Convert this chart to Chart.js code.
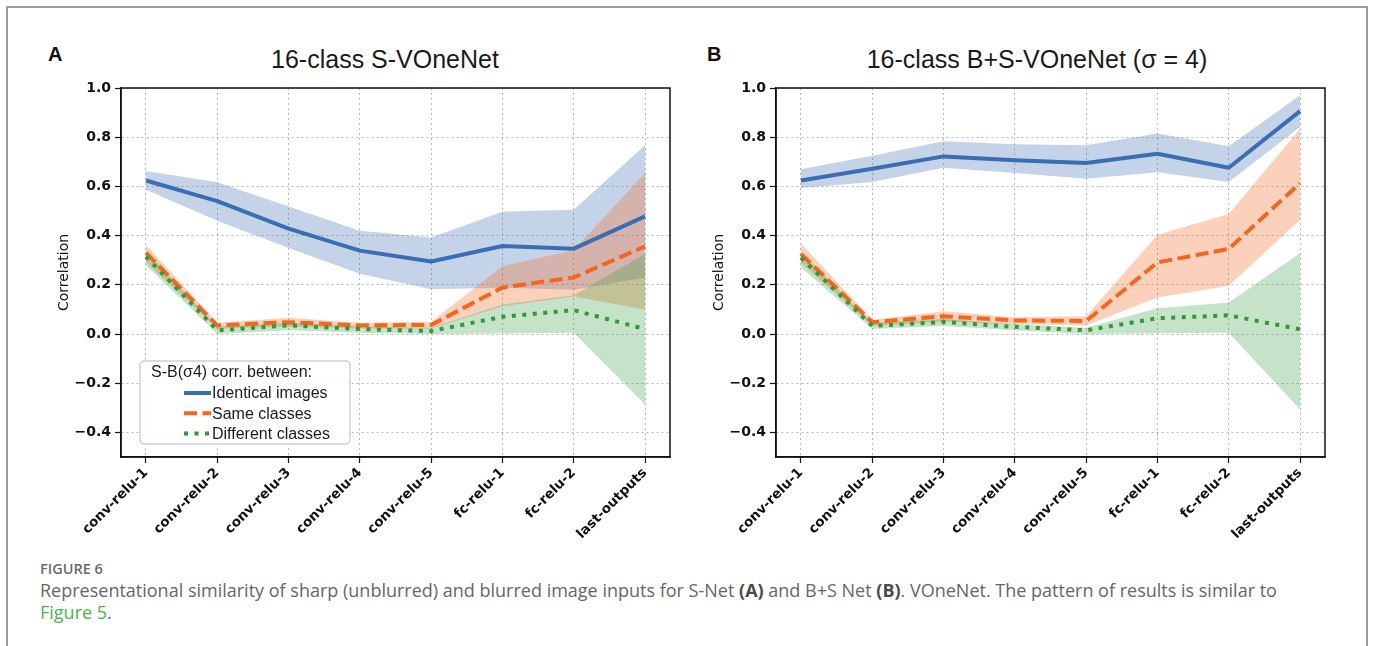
<!DOCTYPE html>
<html>
<head>
<meta charset="utf-8">
<script src="https://cdn.jsdelivr.net/npm/chart.js@4.4.1/dist/chart.umd.min.js"></script>
<style>
	body { margin: 0; background: #fff; width: 1373px; height: 646px; overflow: hidden; position: relative; font-family: "Liberation Sans", Arial, sans-serif; }
	#frame { position: absolute; left: 6px; top: 6px; width: 1358px; height: 700px; border: 2px solid #9b9b9b; }
	.panel { position: absolute; top: 0; }
	.letter { position: absolute; top: 44px; font: bold 20px/20px "Liberation Sans", Arial, sans-serif; color: #111; }
	.title { position: absolute; top: 47px; font: 25px/25px "Liberation Sans", Arial, sans-serif; color: #1a1a1a; white-space: nowrap; transform: translateX(-50%); }
	.figlabel { position: absolute; left: 40px; top: 560px; font: 600 14.5px/18px "Open Sans", sans-serif; color: #6a6a6a; }
	.caption { position: absolute; left: 40px; top: 579px; font: 18px/22px "Open Sans", sans-serif; color: #666; white-space: nowrap; }
	.caption b { font-weight: 700; color: #4a4a4a; }
	.caption .lnk { color: #4cb34c; }
</style>
</head>
<body>
<div id="frame"></div>

<div class="letter" style="left:48px;">A</div>
<div class="letter" style="left:707px;">B</div>
<div class="title" style="left:385px;">16-class S-VOneNet</div>
<div class="title" style="left:1037px;">16-class B+S-VOneNet (σ = 4)</div>

<canvas id="chartA" class="panel" style="left:0px;" width="690" height="540"></canvas>
<canvas id="chartB" class="panel" style="left:655px;" width="690" height="540"></canvas>

<div class="figlabel">FIGURE 6</div>
<div class="caption">Representational similarity of sharp (unblurred) and blurred image inputs for S-Net <b>(A)</b> and B+S Net <b>(B)</b>. VOneNet. The pattern of results is similar to<br><span class="lnk">Figure 5</span>.</div>

<script>
/* 資料 */
var layers = ['conv-relu-1', 'conv-relu-2', 'conv-relu-3', 'conv-relu-4', 'conv-relu-5', 'fc-relu-1', 'fc-relu-2', 'last-outputs'];
var xTicks = [0, 1, 2, 3, 4, 5, 6, 7];
var yTicks = [-0.4, -0.2, 0.0, 0.2, 0.4, 0.6, 0.8, 1.0];
var seriesNames = ['Identical images', 'Same classes', 'Different classes'];
var legendTitle = 'S-B(σ4) corr. between:';

// A: 16-class S-VOneNet
var identA    = [0.624, 0.540, 0.428, 0.339, 0.295, 0.358, 0.347, 0.478];
var identAUp  = [0.663, 0.617, 0.518, 0.420, 0.392, 0.497, 0.505, 0.767];
var identALow = [0.586, 0.460, 0.350, 0.245, 0.182, 0.188, 0.180, 0.230];
var sameA     = [0.330, 0.035, 0.048, 0.035, 0.037, 0.189, 0.230, 0.356];
var sameAUp   = [0.362, 0.046, 0.066, 0.046, 0.050, 0.275, 0.340, 0.655];
var sameALow  = [0.292, 0.022, 0.030, 0.022, 0.022, 0.113, 0.152, 0.100];
var diffA     = [0.315, 0.015, 0.035, 0.020, 0.012, 0.070, 0.097, 0.020];
var diffAUp   = [0.338, 0.030, 0.047, 0.032, 0.025, 0.120, 0.158, 0.325];
var diffALow  = [0.280, 0.000, 0.015, 0.005, 0.000, 0.002, 0.005, -0.287];

// B: 16-class B+S-VOneNet (σ = 4)
var identB    = [0.624, 0.672, 0.722, 0.706, 0.695, 0.733, 0.676, 0.906];
var identBUp  = [0.670, 0.725, 0.784, 0.771, 0.767, 0.815, 0.763, 0.971];
var identBLow = [0.593, 0.618, 0.676, 0.654, 0.631, 0.658, 0.618, 0.842];
var sameB     = [0.325, 0.048, 0.072, 0.055, 0.053, 0.291, 0.346, 0.613];
var sameBUp   = [0.368, 0.058, 0.092, 0.068, 0.072, 0.403, 0.488, 0.835];
var sameBLow  = [0.290, 0.033, 0.050, 0.040, 0.035, 0.148, 0.196, 0.464];
var diffB     = [0.310, 0.033, 0.049, 0.029, 0.015, 0.064, 0.076, 0.019];
var diffBUp   = [0.333, 0.045, 0.062, 0.040, 0.025, 0.105, 0.128, 0.328];
var diffBLow  = [0.270, 0.020, 0.033, 0.015, 0.000, 0.003, 0.005, -0.307];

var blue = '#3b6db2';
var orange = '#f4661e';
var green = '#2f9a38';

/* 工具 */
function pts(vals) {
	return vals.map(function(v, i) {
		return { x: xTicks[i], y: v };
	});
}

function lineSet(label, vals, color, dash) {
	return {
		label: label,
		data: pts(vals),
		borderColor: color,
		borderWidth: 4,
		borderDash: dash,
		borderJoinStyle: 'round',
		pointRadius: 0,
		fill: false,
		tension: 0
	};
}

function bandSet(vals, bg, fillIt) {
	return {
		label: '',
		data: pts(vals),
		borderWidth: 0,
		borderColor: 'rgba(0,0,0,0)',
		backgroundColor: bg,
		pointRadius: 0,
		fill: fillIt ? '+1' : false,
		tension: 0
	};
}

// 外框 (matplotlib 的四邊框)
var framePlugin = {
	id: 'frame',
	afterDatasetsDraw: function(chart) {
		var a = chart.chartArea;
		var ctx = chart.ctx;
		ctx.save();
		ctx.strokeStyle = '#111';
		ctx.lineWidth = 1.5;
		ctx.strokeRect(a.left, a.top, a.right - a.left, a.bottom - a.top);
		ctx.restore();
	}
};

// 圖例 (只在 A 圖)
var legendPlugin = {
	id: 'boxLegend',
	afterDraw: function(chart) {
		if (!chart.options.plugins.boxLegend || !chart.options.plugins.boxLegend.show) return;
		var a = chart.chartArea;
		var ctx = chart.ctx;
		var bx = a.left + 19, by = a.top + 273, bw = 210, bh = 83;
		ctx.save();
		ctx.beginPath();
		ctx.roundRect(bx, by, bw, bh, 4);
		ctx.fillStyle = 'rgba(255,255,255,0.85)';
		ctx.fill();
		ctx.strokeStyle = '#cfcfcf';
		ctx.lineWidth = 1.5;
		ctx.stroke();

		ctx.fillStyle = '#1a1a1a';
		ctx.font = '16px "Liberation Sans", Arial, sans-serif';
		ctx.textBaseline = 'middle';
		ctx.textAlign = 'left';
		ctx.fillText(legendTitle, bx + 11, by + 12);

		var rows = [chart.data.datasets[2], chart.data.datasets[1], chart.data.datasets[0]];
		for (var i = 0; i < rows.length; i++) {
			var yy = by + 32 + i * 20.3;
			ctx.beginPath();
			ctx.setLineDash(rows[i].borderDash || []);
			ctx.strokeStyle = rows[i].borderColor;
			ctx.lineWidth = 4;
			ctx.moveTo(bx + 44, yy);
			ctx.lineTo(bx + 71, yy);
			ctx.stroke();
			ctx.setLineDash([]);
			ctx.fillText(rows[i].label, bx + 72, yy + 1);
		}
		ctx.restore();
	}
};

function makeChart(id, s, showLegend) {
	var ctx = document.getElementById(id);
	return new Chart(ctx, {
		type: 'line',
		data: {
			datasets: [
				lineSet(seriesNames[2], s.diff, green, [4, 6.5]),
				lineSet(seriesNames[1], s.same, orange, [13, 5.5]),
				lineSet(seriesNames[0], s.ident, blue, []),
				bandSet(s.diffUp, 'rgba(47,154,56,0.28)', true),
				bandSet(s.diffLow, 'rgba(0,0,0,0)', false),
				bandSet(s.sameUp, 'rgba(244,102,30,0.30)', true),
				bandSet(s.sameLow, 'rgba(0,0,0,0)', false),
				bandSet(s.identUp, 'rgba(59,109,178,0.30)', true),
				bandSet(s.identLow, 'rgba(0,0,0,0)', false)
			]
		},
		options: {
			responsive: false,
			animation: false,
			layout: { padding: { top: 88, right: 20, left: 0, bottom: 0 } },
			plugins: {
				legend: { display: false },
				tooltip: { enabled: false },
				boxLegend: { show: showLegend }
			},
			scales: {
				x: {
					type: 'linear',
					min: -0.35,
					max: 7.35,
					afterBuildTicks: function(sc) {
						sc.ticks = xTicks.map(function(v) { return { value: v }; });
					},
					afterFit: function(sc) { sc.height = 83; },
					ticks: {
						autoSkip: false,
						minRotation: 45,
						maxRotation: 45,
						padding: 2,
						color: '#111',
						font: { family: 'DejaVu Sans', size: 13.5, weight: 'bold' },
						callback: function(v) { return layers[v]; }
					},
					grid: { color: '#b8b8b8', lineWidth: 1, tickColor: '#111', tickLength: 6, tickWidth: 1.2, tickBorderDash: [] },
					border: { color: '#111', width: 1.5, dash: [2, 3] }
				},
				y: {
					min: -0.5,
					max: 1.0,
					afterBuildTicks: function(sc) {
						sc.ticks = yTicks.map(function(v) { return { value: v }; });
					},
					afterFit: function(sc) { sc.width = 121; },
					ticks: {
						padding: 4,
						color: '#111',
						font: { family: 'DejaVu Sans', size: 14, weight: 'bold' },
						callback: function(v) { return (v < 0 ? '\u2212' : '') + Math.abs(v).toFixed(1); }
					},
					title: {
						display: true,
						text: 'Correlation',
						color: '#111',
						font: { family: 'DejaVu Sans', size: 14, weight: '500' },
						padding: { top: 56, bottom: 0 }
					},
					grid: { color: '#b8b8b8', lineWidth: 1, tickColor: '#111', tickLength: 6, tickWidth: 1.2, tickBorderDash: [] },
					border: { color: '#111', width: 1.5, dash: [2, 3] }
				}
			}
		},
		plugins: [framePlugin, legendPlugin]
	});
}

/* 頁面一執行 */
makeChart('chartA', {
	ident: identA, identUp: identAUp, identLow: identALow,
	same: sameA, sameUp: sameAUp, sameLow: sameALow,
	diff: diffA, diffUp: diffAUp, diffLow: diffALow
}, true);

makeChart('chartB', {
	ident: identB, identUp: identBUp, identLow: identBLow,
	same: sameB, sameUp: sameBUp, sameLow: sameBLow,
	diff: diffB, diffUp: diffBUp, diffLow: diffBLow
}, false);
</script>
</body>
</html>
